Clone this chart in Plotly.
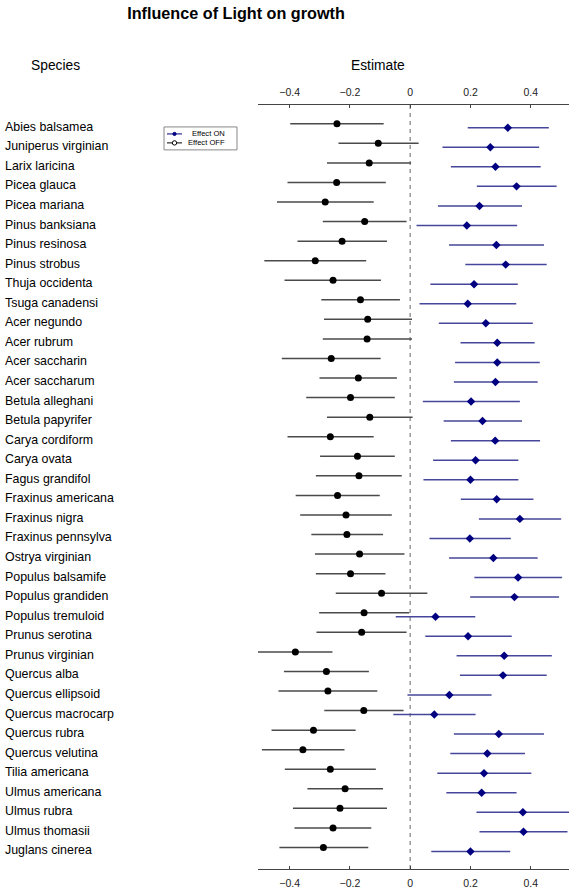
import plotly.graph_objects as go

species = ["Abies balsamea", "Juniperus virginian", "Larix laricina", "Picea glauca",
           "Picea mariana", "Pinus banksiana", "Pinus resinosa", "Pinus strobus",
           "Thuja occidenta", "Tsuga canadensi", "Acer negundo", "Acer rubrum",
           "Acer saccharin", "Acer saccharum", "Betula alleghani", "Betula papyrifer",
           "Carya cordiform", "Carya ovata", "Fagus grandifol", "Fraxinus americana",
           "Fraxinus nigra", "Fraxinus pennsylva", "Ostrya virginian", "Populus balsamife",
           "Populus grandiden", "Populus tremuloid", "Prunus serotina", "Prunus virginian",
           "Quercus alba", "Quercus ellipsoid", "Quercus macrocarp", "Quercus rubra",
           "Quercus velutina", "Tilia americana", "Ulmus americana", "Ulmus rubra",
           "Ulmus thomasii", "Juglans cinerea"]

off_est = [-0.243, -0.106, -0.136, -0.244, -0.282, -0.151, -0.226, -0.315, -0.256, -0.165,
           -0.141, -0.143, -0.262, -0.172, -0.198, -0.134, -0.265, -0.175, -0.170, -0.241,
           -0.213, -0.210, -0.168, -0.198, -0.095, -0.153, -0.161, -0.381, -0.278, -0.273,
           -0.154, -0.321, -0.356, -0.265, -0.216, -0.233, -0.256, -0.288]
off_lo = [-0.398, -0.238, -0.276, -0.407, -0.442, -0.290, -0.374, -0.484, -0.417, -0.295,
          -0.286, -0.290, -0.426, -0.301, -0.345, -0.276, -0.407, -0.299, -0.313, -0.380,
          -0.365, -0.328, -0.316, -0.313, -0.247, -0.302, -0.311, -0.505, -0.419, -0.437,
          -0.285, -0.460, -0.492, -0.416, -0.341, -0.389, -0.384, -0.434]
off_hi = [-0.088, 0.028, 0.003, -0.081, -0.121, -0.012, -0.077, -0.146, -0.097, -0.034,
          0.006, 0.006, -0.098, -0.044, -0.051, 0.008, -0.121, -0.051, -0.028, -0.101,
          -0.061, -0.090, -0.019, -0.082, 0.057, -0.003, -0.012, -0.258, -0.137, -0.109,
          -0.022, -0.181, -0.218, -0.114, -0.090, -0.077, -0.129, -0.139]

on_est = [0.324, 0.266, 0.283, 0.353, 0.230, 0.188, 0.286, 0.317, 0.212, 0.191,
          0.251, 0.289, 0.289, 0.283, 0.202, 0.240, 0.282, 0.217, 0.200, 0.287,
          0.364, 0.198, 0.276, 0.358, 0.346, 0.084, 0.192, 0.312, 0.308, 0.130,
          0.080, 0.294, 0.256, 0.245, 0.237, 0.374, 0.376, 0.200]
on_lo = [0.191, 0.107, 0.135, 0.221, 0.092, 0.021, 0.129, 0.183, 0.067, 0.031,
         0.095, 0.167, 0.149, 0.145, 0.042, 0.111, 0.135, 0.076, 0.044, 0.168,
         0.228, 0.064, 0.129, 0.213, 0.199, -0.048, 0.050, 0.154, 0.165, -0.009,
         -0.056, 0.145, 0.133, 0.090, 0.120, 0.220, 0.230, 0.070]
on_hi = [0.460, 0.428, 0.433, 0.486, 0.371, 0.355, 0.444, 0.453, 0.357, 0.352,
         0.407, 0.413, 0.430, 0.423, 0.364, 0.371, 0.431, 0.359, 0.359, 0.409,
         0.501, 0.334, 0.423, 0.504, 0.494, 0.216, 0.337, 0.470, 0.453, 0.270,
         0.217, 0.444, 0.381, 0.402, 0.353, 0.530, 0.522, 0.332]

tick_vals = [-0.4, -0.2, 0, 0.2, 0.4]
tick_text = ["\u22120.4", "\u22120.2", "0", "0.2", "0.4"]
legend_labels = ["Effect ON", "Effect OFF"]

FONT = "Liberation Sans, Arial, Helvetica, sans-serif"
W, H = 572, 892
L, R, T, B = 258, 3, 105, 21
PW, PH = W - L - R, H - T - B


def px(xp):
    return (xp - L) / PW


def py(yp):
    return (H - B - yp) / PH


rows = list(range(len(species)))
off_y = [r - 0.1 for r in rows]
on_y = [r + 0.1 for r in rows]

OFF_LINE = "#4a4a4a"
ON_LINE = "#46469a"
ON_MARK = "#000080"

fig = go.Figure()

fig.add_trace(go.Scatter(
    x=off_est, y=off_y, mode="markers", name=legend_labels[1], showlegend=False,
    hoverinfo="skip",
    marker=dict(symbol="circle", size=7, color="black"),
    error_x=dict(type="data", symmetric=False,
                 array=[h - e for h, e in zip(off_hi, off_est)],
                 arrayminus=[e - l for e, l in zip(off_est, off_lo)],
                 color=OFF_LINE, thickness=1.5, width=0),
))
fig.add_trace(go.Scatter(
    x=on_est, y=on_y, mode="markers", name=legend_labels[0], showlegend=False,
    hoverinfo="skip",
    marker=dict(symbol="diamond", size=6.5, color=ON_MARK),
    error_x=dict(type="data", symmetric=False,
                 array=[h - e for h, e in zip(on_hi, on_est)],
                 arrayminus=[e - l for e, l in zip(on_est, on_lo)],
                 color=ON_LINE, thickness=1.5, width=0),
))
# top axis carrier
fig.add_trace(go.Scatter(x=[0], y=[0], xaxis="x2", mode="markers", opacity=0,
                         showlegend=False, hoverinfo="skip"))

xr = [-0.505, 0.527]
axis_common = dict(range=xr, tickvals=tick_vals, ticktext=tick_text, showgrid=False,
                   zeroline=False, showline=True, linecolor="#444", linewidth=1,
                   ticks="inside", ticklen=3, tickcolor="#444", ticklabelstandoff=4,
                   tickfont=dict(family=FONT, size=10.5, color="#222"))

fig.update_layout(
    width=W, height=H,
    margin=dict(l=L, r=R, t=T, b=B),
    plot_bgcolor="white", paper_bgcolor="white",
    xaxis=dict(**axis_common, side="bottom"),
    xaxis2=dict(**axis_common, side="top", overlaying="x", anchor="y"),
    yaxis=dict(range=[38.0, -1.06], visible=False, showgrid=False, zeroline=False),
    title=dict(text="<b>Influence of Light on growth</b>", x=236 / W, xanchor="center",
               y=1 - 13 / H, yanchor="middle",
               font=dict(family=FONT, size=16.2, color="black")),
    font=dict(family=FONT),
    showlegend=False,
)

fig.add_shape(type="line", xref="x", yref="paper", x0=0, x1=0, y0=0, y1=1,
              line=dict(color="#999", width=1.5, dash="4px,4px"), layer="below")

# manual compact legend (R-style)
fig.add_shape(type="rect", xref="paper", yref="paper", x0=px(164), x1=px(237),
              y0=py(127), y1=py(150), line=dict(color="#888", width=1),
              fillcolor="white")
leg_rows = [(134, ON_MARK, "circle-filled"), (143, "black", "circle-open")]
for (yy, col, kind), lab in zip(leg_rows, legend_labels):
    fig.add_shape(type="line", xref="paper", yref="paper", x0=px(167), x1=px(182),
                  y0=py(yy), y1=py(yy), line=dict(color=col, width=1))
    r = 1.6 if kind == "circle-filled" else 2.2
    fig.add_shape(type="circle", xref="paper", yref="paper",
                  x0=px(174.5 - r), x1=px(174.5 + r), y0=py(yy - r), y1=py(yy + r),
                  line=dict(color=col, width=1),
                  fillcolor=col if kind == "circle-filled" else "white")
    fig.add_annotation(text=lab, xref="paper", yref="paper", x=px(227), y=py(yy),
                       xanchor="right", yanchor="middle", showarrow=False,
                       font=dict(family=FONT, size=7.6, color="black"))

fig.add_annotation(text="Species", xref="paper", yref="paper",
                   x=px(55), y=py(65), xanchor="center", yanchor="middle",
                   showarrow=False, font=dict(family=FONT, size=13.8, color="black"))
fig.add_annotation(text="Estimate", xref="paper", yref="paper",
                   x=px(378), y=py(65), xanchor="center", yanchor="middle",
                   showarrow=False, font=dict(family=FONT, size=13.8, color="black"))

for i, name in enumerate(species):
    fig.add_annotation(text=name, xref="paper", yref="y", x=px(3), y=i + 0.05,
                       xanchor="left", yanchor="middle", showarrow=False,
                       font=dict(family=FONT, size=12.4, color="black"))

fig.write_html("out.html", config={"displayModeBar": False},
               post_script="document.body.style.margin='0';document.body.style.padding='0';")
